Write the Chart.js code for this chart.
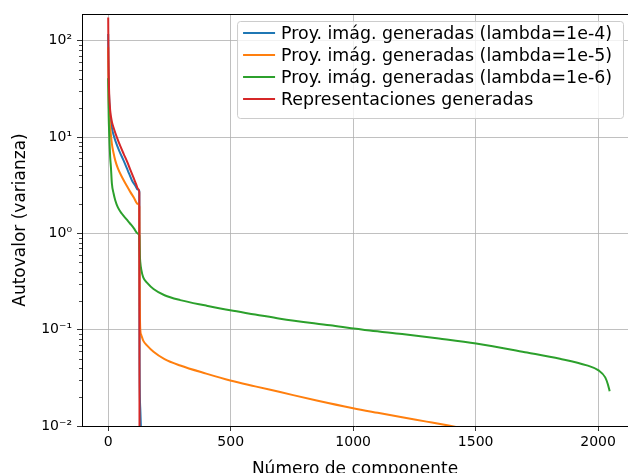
<!DOCTYPE html>
<html>
<head>
<meta charset="utf-8">
<script src="https://cdn.jsdelivr.net/npm/chart.js@4.4.0/dist/chart.umd.min.js"></script>
<style>
    html, body { margin: 0; padding: 0; background: #fff; overflow: hidden; }
    #wrap { width: 628px; height: 473px; }
</style>
</head>
<body>
<div id="wrap"><canvas id="eigenChart" width="628" height="473"></canvas></div>
<script>
// series names (legend order)
const seriesLabels = [
    'Proy. imág. generadas (lambda=1e-4)',
    'Proy. imág. generadas (lambda=1e-5)',
    'Proy. imág. generadas (lambda=1e-6)',
    'Representaciones generadas'
];
const seriesColors = ['#1f77b4', '#ff7f0e', '#2ca02c', '#d62728'];

// values (component index, eigenvalue)
const blueX = [0, 1, 2, 4, 8, 15, 22, 29, 45, 63, 80, 97, 110, 120, 127, 128, 131, 134, 140];
const blueY = [118, 55, 38, 25, 17, 12.5, 10.5, 9.2, 7.2, 5.7, 4.5, 3.55, 3.15, 2.85, 2.75, 0.05, 0.015, 0.009, 0.002];

const orangeX = [0, 1, 2, 4, 8, 15, 22, 29, 40, 56, 75, 90, 105, 120, 127, 128, 129, 131, 135, 143, 160, 185, 230, 294, 400, 498, 600, 702, 851, 1000, 1100, 1200, 1300, 1390, 1500, 1700, 1900, 2047];
const orangeY = [86, 40, 26, 17, 12.7, 8.5, 6.8, 5.7, 4.7, 3.85, 3.15, 2.7, 2.35, 2.03, 1.9, 0.35, 0.17, 0.1, 0.088, 0.077, 0.068, 0.059, 0.0495, 0.0425, 0.035, 0.0297, 0.0258, 0.0225, 0.0184, 0.0153, 0.0137, 0.0123, 0.0111, 0.0101, 0.0089, 0.0071, 0.0056, 0.0046];

const greenX = [0, 1, 2, 4, 6, 8, 11, 15, 22, 29, 40, 56, 75, 90, 105, 120, 127, 128, 129, 131, 135, 143, 160, 185, 230, 294, 400, 498, 600, 702, 906, 1068, 1200, 1350, 1502, 1710, 1844, 1954, 2002, 2029, 2040, 2047];
const greenY = [41, 24, 16, 11, 8, 6.2, 4.9, 3.3, 2.6, 2.2, 1.85, 1.6, 1.4, 1.26, 1.13, 1.0, 0.95, 0.75, 0.6, 0.5, 0.42, 0.35, 0.305, 0.265, 0.228, 0.203, 0.178, 0.159, 0.144, 0.13, 0.111, 0.098, 0.09, 0.081, 0.072, 0.058, 0.05, 0.0426, 0.0378, 0.032, 0.027, 0.023];

const redX = [0, 1, 2, 4, 8, 15, 22, 35, 50, 63, 78, 90, 105, 115, 122, 127, 128];
const redY = [175, 70, 45, 28, 19, 14.5, 12.5, 10, 8, 6.7, 5.5, 4.6, 3.7, 3.2, 2.9, 2.65, 0.001];

// axes
const xTicks = [0, 500, 1000, 1500, 2000];
const yMajorTicks = [0.01, 0.1, 1, 10, 100];
const yTickLabels = ['10⁻²', '10⁻¹', '10⁰', '10¹', '10²'];
const xTitle = 'Número de componente';
const yTitle = 'Autovalor (varianza)';

const FONT = 'DejaVu Sans';
const GRID = '#b0b0b0';

function toPoints(xs, ys) {
    return xs.map((x, i) => ({ x: x, y: ys[i] }));
}

const allX = [blueX, orangeX, greenX, redX];
const allY = [blueY, orangeY, greenY, redY];

// matplotlib-style top spine, minor ticks and legend box
const framePlugin = {
    id: 'frame',
    afterDraw(chart) {
        const { ctx, chartArea } = chart;
        const yScale = chart.scales.y;
        ctx.save();
        ctx.strokeStyle = '#000';
        ctx.lineWidth = 1;
        ctx.beginPath();
        ctx.moveTo(chartArea.left, chartArea.top + 0.5);
        ctx.lineTo(chartArea.right, chartArea.top + 0.5);
        ctx.stroke();

        ctx.lineWidth = 0.7;
        ctx.beginPath();
        yScale.ticks.forEach(t => {
            if (t.major) return;
            const py = Math.round(yScale.getPixelForValue(t.value)) + 0.5;
            ctx.moveTo(chartArea.left - 3, py);
            ctx.lineTo(chartArea.left, py);
        });
        ctx.stroke();

        // legend
        ctx.font = '17.4px "' + FONT + '"';
        const textW = Math.max(...seriesLabels.map(s => ctx.measureText(s).width));
        const handleLen = 32, gap = 6, pad = 6, rowH = 22;
        const w = pad + handleLen + gap + textW + 11;
        const h = rowH * seriesLabels.length + 9;
        const right = chartArea.right - 5;
        const left = right - w;
        const top = chartArea.top + 7;

        ctx.beginPath();
        ctx.roundRect(left + 0.5, top + 0.5, w, h, 3);
        ctx.fillStyle = 'rgba(255,255,255,0.8)';
        ctx.fill();
        ctx.strokeStyle = '#cccccc';
        ctx.lineWidth = 1;
        ctx.stroke();

        ctx.textBaseline = 'middle';
        ctx.textAlign = 'left';
        seriesLabels.forEach((lab, i) => {
            const cy = top + 12 + i * rowH;
            ctx.strokeStyle = seriesColors[i];
            ctx.lineWidth = 2;
            ctx.beginPath();
            ctx.moveTo(left + pad, cy);
            ctx.lineTo(left + pad + handleLen, cy);
            ctx.stroke();
            ctx.fillStyle = '#000';
            ctx.fillText(lab, left + pad + handleLen + gap, cy + 1);
        });
        ctx.restore();
    }
};

new Chart(document.getElementById('eigenChart'), {
    type: 'line',
    data: {
        datasets: seriesLabels.map((lab, i) => ({
            label: lab,
            data: toPoints(allX[i], allY[i]),
            borderColor: seriesColors[i],
            backgroundColor: seriesColors[i],
            borderWidth: 2,
            pointRadius: 0,
            cubicInterpolationMode: 'monotone',
            fill: false,
            order: seriesLabels.length - i
        }))
    },
    options: {
        responsive: false,
        animation: false,
        devicePixelRatio: 1,
        layout: { padding: { top: 14, right: 0, left: 0, bottom: 0 } },
        plugins: {
            legend: { display: false },
            tooltip: { enabled: false }
        },
        scales: {
            x: {
                type: 'linear',
                min: -107,
                max: 2122,
                afterBuildTicks: scale => { scale.ticks = xTicks.map(v => ({ value: v })); },
                afterFit: scale => { scale.height = 47; },
                ticks: {
                    autoSkip: false,
                    maxRotation: 0,
                    padding: 3,
                    color: '#000',
                    font: { family: FONT, size: 14 },
                    callback: v => String(v)
                },
                grid: { color: GRID, lineWidth: 0.8, tickLength: 5, tickColor: '#000' },
                border: { color: '#000', width: 1 },
                title: {
                    display: true,
                    text: xTitle,
                    color: '#000',
                    font: { family: FONT, size: 17, lineHeight: 1 },
                    padding: { top: 0, bottom: -5 }
                }
            },
            y: {
                type: 'logarithmic',
                min: 0.01,
                max: 190,
                afterBuildTicks: scale => {
                    const ticks = [];
                    yMajorTicks.forEach(m => {
                        for (let k = 1; k <= 9; k++) {
                            const v = m * k;
                            if (v <= scale.max) ticks.push({ value: v, major: k === 1 });
                        }
                    });
                    scale.ticks = ticks;
                },
                afterFit: scale => { scale.width = 82; },
                ticks: {
                    autoSkip: false,
                    padding: 5,
                    color: '#000',
                    font: { family: FONT, size: 14 },
                    callback: function (value, index, ticks) {
                        const t = ticks[index];
                        if (!t.major) return '';
                        const j = yMajorTicks.findIndex(m => Math.abs(m - value) / m < 1e-6);
                        return j >= 0 ? yTickLabels[j] : '';
                    }
                },
                grid: {
                    color: c => (c.tick && c.tick.major ? GRID : 'rgba(0,0,0,0)'),
                    tickColor: c => (c.tick && c.tick.major ? '#000' : 'rgba(0,0,0,0)'),
                    lineWidth: 0.8,
                    tickLength: 5
                },
                border: { color: '#000', width: 1 },
                title: {
                    display: true,
                    text: yTitle,
                    color: '#000',
                    font: { family: FONT, size: 17 },
                    padding: { top: 10, bottom: 0 }
                }
            }
        }
    },
    plugins: [framePlugin]
});
</script>
</body>
</html>
